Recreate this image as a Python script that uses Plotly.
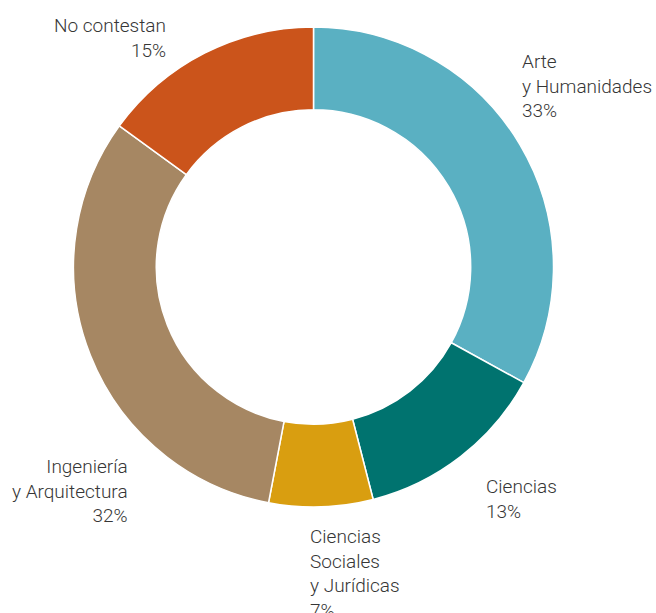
import plotly.graph_objects as go

categories = ["Arte<br>y Humanidades", "Ciencias", "Ciencias<br>Sociales<br>y Jurídicas",
              "Ingeniería<br>y Arquitectura", "No contestan"]
values = [33, 13, 7, 32, 15]
colors = ["#5AB0C2", "#00736F", "#D99E10", "#A68763", "#CB541B"]

W, H = 656, 613

def px(x):
    return x / W

def py(y):
    return 1 - y / H

cx, cy, R = 313.5, 267, 240

fig = go.Figure(go.Pie(
    values=values,
    labels=categories,
    hole=0.655,
    sort=False,
    direction="clockwise",
    rotation=0,
    marker=dict(colors=colors, line=dict(color="white", width=1.5)),
    textinfo="none",
    hoverinfo="label+percent",
    domain=dict(x=[px(cx - R), px(cx + R)],
                y=[py(cy + R), py(cy - R)]),
    showlegend=False,
))

# label anchors (pixel positions of text blocks)
label_pos = [
    (520, 48, "left"),
    (484, 473, "left"),
    (308, 523, "left"),
    (130, 453, "right"),
    (168, 12, "right"),
]
font = dict(family="Roboto, 'Helvetica Neue', Arial, sans-serif", size=19, color="#363636", weight=300)
for cat, v, (x, y, al) in zip(categories, values, label_pos):
    fig.add_annotation(
        x=px(x), y=py(y), xref="paper", yref="paper",
        xanchor=al, yanchor="top", align=al,
        text=f"{cat}<br>{v}%", showarrow=False, font=font,
    )

fig.update_layout(
    width=W, height=H,
    margin=dict(l=0, r=0, t=0, b=0),
    paper_bgcolor="white", plot_bgcolor="white",
)
fig.write_html(
    "out.html",
    config={"displayModeBar": False},
    post_script="document.body.style.margin='0';document.body.style.overflow='hidden';",
)
